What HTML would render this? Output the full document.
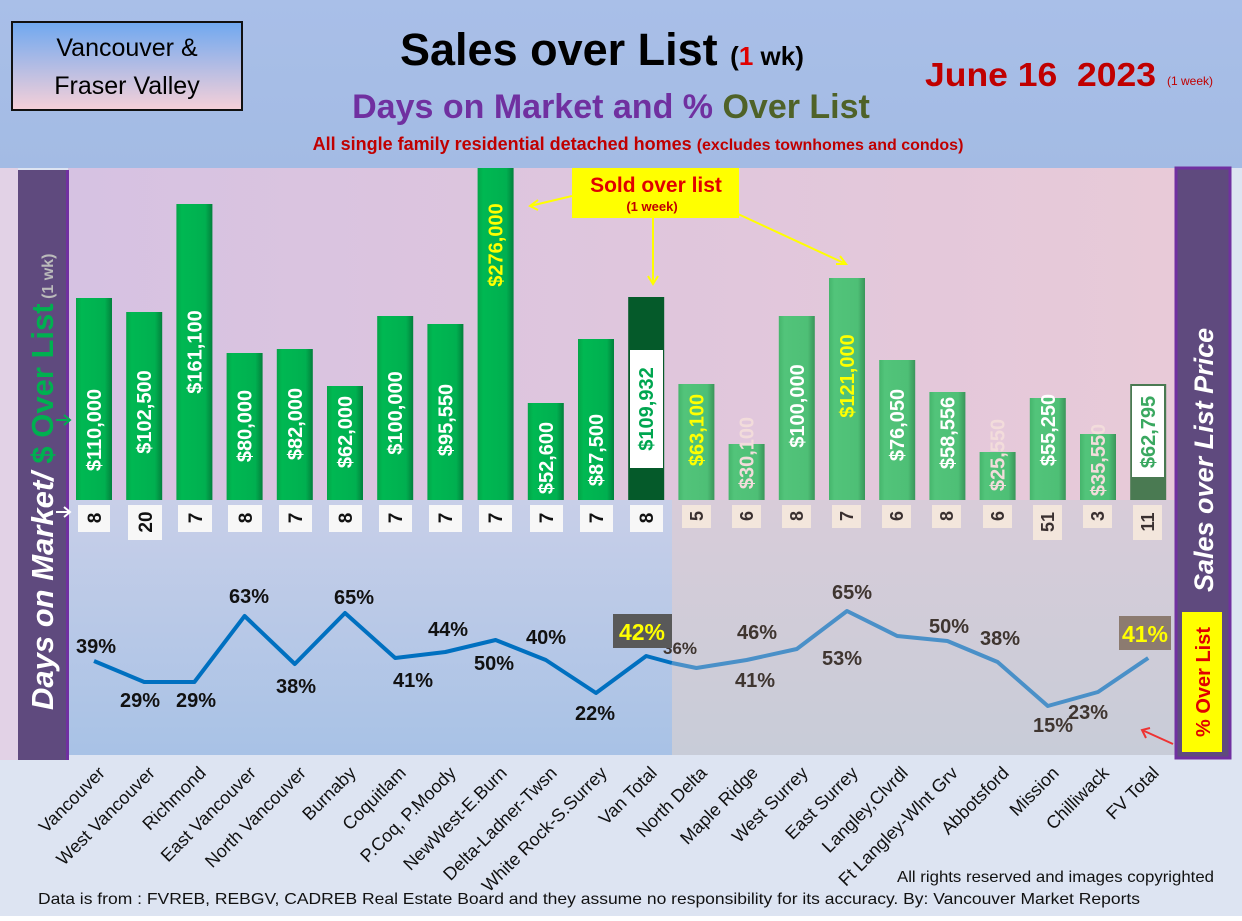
<!DOCTYPE html>
<html><head><meta charset="utf-8"><style>
body{margin:0;width:1242px;height:916px;overflow:hidden;font-family:"Liberation Sans",sans-serif}
svg text{font-family:"Liberation Sans",sans-serif}
</style></head><body>
<svg width="1242" height="916" viewBox="0 0 1242 916" xmlns="http://www.w3.org/2000/svg">
<defs>
<linearGradient id="hdr" x1="0" y1="0" x2="0" y2="1"><stop offset="0" stop-color="#a9bfe8"/><stop offset="1" stop-color="#a3bbe4"/></linearGradient>
<linearGradient id="up" x1="0" y1="0" x2="1" y2="0"><stop offset="0" stop-color="#d6c2e2"/><stop offset="1" stop-color="#e8cad8"/></linearGradient>
<linearGradient id="lowL" x1="0" y1="0" x2="0" y2="1"><stop offset="0" stop-color="#c8cfe8"/><stop offset="1" stop-color="#a8c2e6"/></linearGradient>
<linearGradient id="lowR" x1="0" y1="0" x2="0" y2="1"><stop offset="0" stop-color="#d8ccd9"/><stop offset="1" stop-color="#c8ccd8"/></linearGradient>
<linearGradient id="box" x1="0" y1="0" x2="0" y2="1"><stop offset="0" stop-color="#6fa8f0"/><stop offset="1" stop-color="#f6d0d8"/></linearGradient>
<linearGradient id="g1" x1="0" y1="0" x2="1" y2="0"><stop offset="0" stop-color="#05a448"/><stop offset="0.15" stop-color="#00b852"/><stop offset="0.8" stop-color="#00b050"/><stop offset="1" stop-color="#03803c"/></linearGradient>
<linearGradient id="g2" x1="0" y1="0" x2="1" y2="0"><stop offset="0" stop-color="#45b56c"/><stop offset="0.15" stop-color="#52c47a"/><stop offset="0.8" stop-color="#4ebf76"/><stop offset="1" stop-color="#3a955a"/></linearGradient>
</defs>
<rect width="1242" height="916" fill="#dde4f2"/>
<rect width="1242" height="168" fill="url(#hdr)"/>
<rect x="0" y="168" width="18" height="592" fill="#e2d2e6"/>
<rect x="68" y="168" width="1107" height="332" fill="url(#up)"/>
<rect x="68" y="500" width="604" height="255" fill="url(#lowL)"/>
<rect x="672" y="500" width="503" height="255" fill="url(#lowR)"/>

<rect x="12" y="22" width="230" height="88" fill="url(#box)" stroke="#111" stroke-width="2"/>
<text x="127" y="56" font-size="25" text-anchor="middle">Vancouver &amp;</text>
<text x="127" y="94" font-size="25" text-anchor="middle">Fraser Valley</text>

<text x="400" y="65" font-size="45" font-weight="bold">Sales over List <tspan font-size="26">(<tspan fill="#e00000">1</tspan> wk)</tspan></text>
<text x="611" y="118" font-size="34" font-weight="bold" fill="#7030a0" text-anchor="middle">Days on Market and % <tspan fill="#4f6228">Over List</tspan></text>
<text x="638" y="150" font-size="18" font-weight="bold" fill="#c00000" text-anchor="middle">All single family residential detached homes <tspan font-size="16">(excludes townhomes and condos)</tspan></text>
<text x="925" y="86" font-size="33" font-weight="bold" fill="#c00000" xml:space="preserve" textLength="231" lengthAdjust="spacingAndGlyphs">June 16  2023</text>
<text x="1167" y="85" font-size="12" fill="#c00000">(1 week)</text>

<rect x="18" y="170" width="50" height="590" fill="#5f4a7e"/>
<rect x="66" y="170" width="3" height="590" fill="#7030a0"/>
<text transform="translate(53,710) rotate(-90)" font-size="31" font-weight="bold"><tspan fill="#fff" font-style="italic">Days on Market/ </tspan><tspan fill="#00b050">$ Over List</tspan><tspan fill="#bbb" font-size="16"> (1 wk)</tspan></text>
<rect x="1176" y="168" width="54" height="590" fill="#5f4a7e" stroke="#7030a0" stroke-width="3"/>
<text transform="translate(1213,592) rotate(-90)" font-size="27" font-weight="bold" font-style="italic" fill="#fff">Sales over List Price</text>
<rect x="1182" y="612" width="40" height="140" fill="#ffff00"/>
<text transform="translate(1210,682) rotate(-90)" font-size="20" font-weight="bold" fill="#e00000" text-anchor="middle">% Over List</text>

<path d="M56 420 L70 420 M64 415 L70 420 L64 425" stroke="#00b050" stroke-width="2" fill="none"/>
<path d="M56 512 L70 512 M64 507 L70 512 L64 517" stroke="#fff" stroke-width="2" fill="none"/>

<g>
<rect x="76" y="298" width="36" height="202" fill="url(#g1)"/>
<rect x="126.2" y="312" width="36" height="188" fill="url(#g1)"/>
<rect x="176.4" y="204" width="36" height="296" fill="url(#g1)"/>
<rect x="226.6" y="353" width="36" height="147" fill="url(#g1)"/>
<rect x="276.8" y="349" width="36" height="151" fill="url(#g1)"/>
<rect x="327" y="386" width="36" height="114" fill="url(#g1)"/>
<rect x="377.2" y="316" width="36" height="184" fill="url(#g1)"/>
<rect x="427.4" y="324" width="36" height="176" fill="url(#g1)"/>
<rect x="477.6" y="168" width="36" height="332" fill="url(#g1)"/>
<rect x="527.8" y="403" width="36" height="97" fill="url(#g1)"/>
<rect x="578" y="339" width="36" height="161" fill="url(#g1)"/>
<rect x="628.2" y="297" width="36" height="203" fill="#055a2a"/>
<rect x="678.4" y="384" width="36" height="116" fill="url(#g2)"/>
<rect x="728.6" y="444" width="36" height="56" fill="url(#g2)"/>
<rect x="778.8" y="316" width="36" height="184" fill="url(#g2)"/>
<rect x="829" y="278" width="36" height="222" fill="url(#g2)"/>
<rect x="879.2" y="360" width="36" height="140" fill="url(#g2)"/>
<rect x="929.4" y="392" width="36" height="108" fill="url(#g2)"/>
<rect x="979.6" y="452" width="36" height="48" fill="url(#g2)"/>
<rect x="1029.8" y="398" width="36" height="102" fill="url(#g2)"/>
<rect x="1080" y="434" width="36" height="66" fill="url(#g2)"/>
<rect x="1130.2" y="384" width="36" height="116" fill="#4a7a52"/>
<rect x="630" y="350" width="33" height="118" fill="#fff"/>
<rect x="1132" y="386" width="32" height="91" fill="#fff"/>
</g>
<g font-size="20" font-weight="bold" text-anchor="middle" fill="#fff">
<text transform="translate(101,430) rotate(-90)">$110,000</text>
<text transform="translate(151.2,412) rotate(-90)">$102,500</text>
<text transform="translate(201.4,352) rotate(-90)">$161,100</text>
<text transform="translate(251.6,426) rotate(-90)">$80,000</text>
<text transform="translate(301.8,424) rotate(-90)">$82,000</text>
<text transform="translate(352,432) rotate(-90)">$62,000</text>
<text transform="translate(402.2,413) rotate(-90)">$100,000</text>
<text transform="translate(452.4,420) rotate(-90)">$95,550</text>
<text transform="translate(502.6,245) rotate(-90)" fill="#ffff00">$276,000</text>
<text transform="translate(552.8,458) rotate(-90)">$52,600</text>
<text transform="translate(603,450) rotate(-90)">$87,500</text>
<text transform="translate(653.2,409) rotate(-90)" fill="#00a650">$109,932</text>
<text transform="translate(703.4,430) rotate(-90)" fill="#ffff00">$63,100</text>
<text transform="translate(753.6,453) rotate(-90)" fill="#f2dcdb">$30,100</text>
<text transform="translate(803.8,406) rotate(-90)">$100,000</text>
<text transform="translate(854,376) rotate(-90)" fill="#ffff00">$121,000</text>
<text transform="translate(904.2,425) rotate(-90)">$76,050</text>
<text transform="translate(954.4,433) rotate(-90)">$58,556</text>
<text transform="translate(1004.6,455) rotate(-90)" fill="#f2dcdb">$25,550</text>
<text transform="translate(1054.8,430) rotate(-90)">$55,250</text>
<text transform="translate(1105,460) rotate(-90)" fill="#f2dcdb">$35,550</text>
<text transform="translate(1155.2,432) rotate(-90)" fill="#3aa860">$62,795</text>
</g>

<g fill="#f7f7f7">
<rect x="78" y="505" width="32" height="27"/><rect x="128" y="505" width="34" height="35"/><rect x="178" y="505" width="34" height="27"/><rect x="228" y="505" width="34" height="27"/><rect x="279" y="505" width="33" height="27"/><rect x="329" y="505" width="33" height="27"/><rect x="379" y="505" width="33" height="27"/><rect x="429" y="505" width="33" height="27"/><rect x="479" y="505" width="33" height="27"/><rect x="530" y="505" width="33" height="27"/><rect x="580" y="505" width="33" height="27"/><rect x="630" y="505" width="33" height="27"/>
</g>
<g fill="#f3e6dc">
<rect x="682" y="505" width="29" height="23"/><rect x="732" y="505" width="29" height="23"/><rect x="782" y="505" width="29" height="23"/><rect x="832" y="505" width="29" height="23"/><rect x="882" y="505" width="29" height="23"/><rect x="932" y="505" width="29" height="23"/><rect x="983" y="505" width="29" height="23"/><rect x="1033" y="505" width="29" height="35"/><rect x="1083" y="505" width="29" height="23"/><rect x="1133" y="505" width="29" height="35"/>
</g>
<g font-size="19" font-weight="bold" text-anchor="middle" fill="#111">
<text transform="translate(101,518) rotate(-90)">8</text>
<text transform="translate(152,522) rotate(-90)">20</text>
<text transform="translate(202,518) rotate(-90)">7</text>
<text transform="translate(252,518) rotate(-90)">8</text>
<text transform="translate(302,518) rotate(-90)">7</text>
<text transform="translate(352,518) rotate(-90)">8</text>
<text transform="translate(402,518) rotate(-90)">7</text>
<text transform="translate(452,518) rotate(-90)">7</text>
<text transform="translate(502,518) rotate(-90)">7</text>
<text transform="translate(553,518) rotate(-90)">7</text>
<text transform="translate(603,518) rotate(-90)">7</text>
<text transform="translate(653,518) rotate(-90)">8</text>
</g>
<g font-size="18" font-weight="bold" text-anchor="middle" fill="#3a3030">
<text transform="translate(703,516) rotate(-90)">5</text>
<text transform="translate(753,516) rotate(-90)">6</text>
<text transform="translate(803,516) rotate(-90)">8</text>
<text transform="translate(853,516) rotate(-90)">7</text>
<text transform="translate(903,516) rotate(-90)">6</text>
<text transform="translate(953,516) rotate(-90)">8</text>
<text transform="translate(1004,516) rotate(-90)">6</text>
<text transform="translate(1054,522) rotate(-90)">51</text>
<text transform="translate(1104,516) rotate(-90)">3</text>
<text transform="translate(1154,522) rotate(-90)">11</text>
</g>

<polyline points="94,661 144.2,682 194.4,682 244.6,616 294.8,664 345,613 395.2,658 445.4,652 495.6,640 545.8,660 596,693 646.2,656 672,663" fill="none" stroke="#0070c0" stroke-width="4" stroke-linejoin="round"/>
<polyline points="672,663 696.4,668 746.6,660 796.8,649 847,611 897.2,636 947.4,641 997.6,662 1047.8,706 1098,692 1148.2,658" fill="none" stroke="#4a90c8" stroke-width="4" stroke-linejoin="round"/>
<g font-size="20" font-weight="bold" text-anchor="middle" fill="#111">
<text x="96" y="653">39%</text><text x="140" y="707">29%</text><text x="196" y="707">29%</text><text x="249" y="603">63%</text><text x="296" y="693">38%</text><text x="354" y="604">65%</text><text x="413" y="687">41%</text><text x="448" y="636">44%</text><text x="494" y="670">50%</text><text x="546" y="644">40%</text><text x="595" y="720">22%</text>
</g>
<g font-size="20" font-weight="bold" text-anchor="middle" fill="#3f3530">
<text x="680" y="654" font-size="17">36%</text><text x="755" y="687">41%</text><text x="757" y="639">46%</text><text x="852" y="599">65%</text><text x="842" y="665">53%</text><text x="949" y="633">50%</text><text x="1000" y="645">38%</text><text x="1053" y="732">15%</text><text x="1088" y="719">23%</text>
</g>
<rect x="613" y="614" width="59" height="34" fill="#595959"/>
<text x="642" y="640" font-size="23" font-weight="bold" fill="#ffff00" text-anchor="middle">42%</text>
<rect x="1119" y="616" width="52" height="34" fill="#8c7b70"/>
<text x="1145" y="642" font-size="23" font-weight="bold" fill="#ffff00" text-anchor="middle">41%</text>
<path d="M1173 744 L1142 730 M1150 728 L1142 730 L1146 738" stroke="#ee3333" stroke-width="2" fill="none"/>

<path d="M572 196 L530 206 M538 200 L530 206 L538 210" stroke="#ffff00" stroke-width="2" fill="none"/>
<path d="M653 218 L653 284 M648 276 L653 284 L658 276" stroke="#ffff00" stroke-width="2" fill="none"/>
<path d="M738 214 L846 264 M836 264 L846 264 L840 256" stroke="#ffff00" stroke-width="2" fill="none"/>
<rect x="572" y="168" width="167" height="50" fill="#ffff00"/>
<text x="656" y="192" font-size="21" font-weight="bold" fill="#e00000" text-anchor="middle">Sold over list</text>
<text x="652" y="211" font-size="13" font-weight="bold" fill="#c00000" text-anchor="middle">(1 week)</text>

<g font-size="18" text-anchor="end" fill="#111">
<text transform="translate(106,774) rotate(-45)">Vancouver</text>
<text transform="translate(156,774) rotate(-45)">West Vancouver</text>
<text transform="translate(207,774) rotate(-45)">Richmond</text>
<text transform="translate(257,774) rotate(-45)">East Vancouver</text>
<text transform="translate(307,774) rotate(-45)">North Vancouver</text>
<text transform="translate(357,774) rotate(-45)">Burnaby</text>
<text transform="translate(407,774) rotate(-45)">Coquitlam</text>
<text transform="translate(457,774) rotate(-45)">P.Coq, P.Moody</text>
<text transform="translate(508,774) rotate(-45)">NewWest-E.Burn</text>
<text transform="translate(558,774) rotate(-45)">Delta-Ladner-Twsn</text>
<text transform="translate(608,774) rotate(-45)">White Rock-S.Surrey</text>
<text transform="translate(658,774) rotate(-45)">Van Total</text>
<text transform="translate(708,774) rotate(-45)">North Delta</text>
<text transform="translate(759,774) rotate(-45)">Maple Ridge</text>
<text transform="translate(809,774) rotate(-45)">West Surrey</text>
<text transform="translate(859,774) rotate(-45)">East Surrey</text>
<text transform="translate(909,774) rotate(-45)">Langley,Clvrdl</text>
<text transform="translate(959,774) rotate(-45)">Ft Langley-Wlnt Grv</text>
<text transform="translate(1010,774) rotate(-45)">Abbotsford</text>
<text transform="translate(1060,774) rotate(-45)">Mission</text>
<text transform="translate(1110,774) rotate(-45)">Chilliwack</text>
<text transform="translate(1160,774) rotate(-45)">FV Total</text>
</g>
<text x="897" y="882" font-size="16" textLength="317" lengthAdjust="spacingAndGlyphs" fill="#111">All rights reserved and  images copyrighted</text>
<text x="38" y="904" font-size="16" textLength="1102" lengthAdjust="spacingAndGlyphs" fill="#111">Data is from : FVREB, REBGV, CADREB Real Estate Board and they assume no responsibility for its accuracy. By: Vancouver Market Reports</text>
</svg>
</body></html>
